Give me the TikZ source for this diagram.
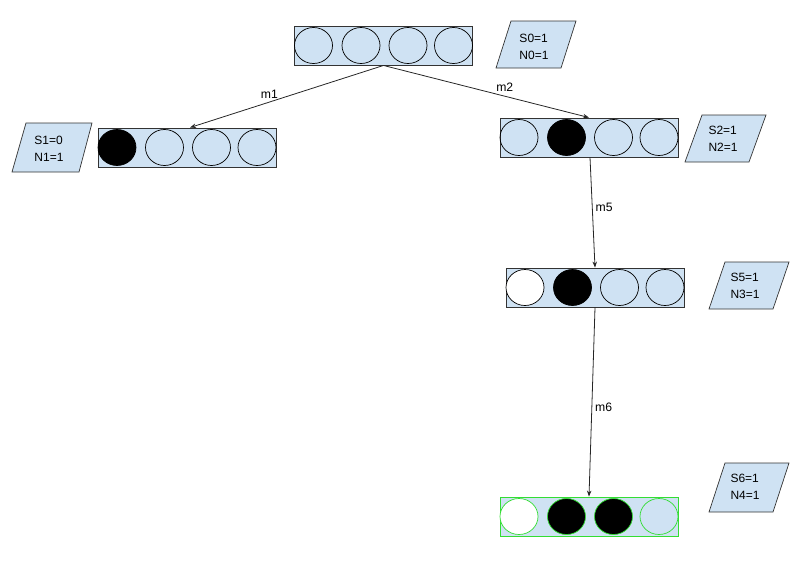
\documentclass[tikz,border=0pt]{standalone}
\usepackage{fontspec}
\setmainfont{Liberation Sans}
\usetikzlibrary{shapes.geometric,arrows.meta}
\definecolor{lblue}{HTML}{CFE2F3}
\definecolor{gborder}{HTML}{33DD33}
\definecolor{dborder}{HTML}{333333}
\tikzset{
  statebox/.style={draw=dborder,fill=lblue,line width=0.9pt,minimum width=178pt,minimum height=39pt,inner sep=0pt},
  cell/.style={ellipse,draw=black,line width=0.7pt,minimum width=38pt,minimum height=36pt,inner sep=0pt},
  cellblack/.style={cell,fill=black},
  cellwhite/.style={cell,fill=white},
  greencell/.style={draw=gborder},
  para/.style={draw=dborder,fill=lblue,line width=0.7pt},
  paratext/.style={align=left,font=\fontsize{12}{17}\selectfont,inner sep=0pt},
  conn/.style={draw=black!85,line width=0.8pt,-{Stealth[length=6pt,width=4.5pt]}},
  lbl/.style={font=\fontsize{12.2}{14}\selectfont,inner sep=1pt}
}
\begin{document}
\begin{tikzpicture}[x=1pt,y=-1pt]
\useasboundingbox (0,0) rectangle (810,571);
% boxes
\node[statebox] (B0) at (383.5,45.5) {};
\node[statebox] (B1) at (187,147.5) {};
\node[statebox] (B2) at (589,137.5) {};
\node[statebox] (B5) at (595,287.5) {};
\node[statebox,draw=gborder] (B6) at (589,516.5) {};
% cells
\foreach \b in {B0,B1,B2,B5,B6}{
  \coordinate (\b c1) at ([xshift=-70pt]\b.center);
  \coordinate (\b c2) at ([xshift=-22.5pt]\b.center);
  \coordinate (\b c3) at ([xshift=24.5pt]\b.center);
  \coordinate (\b c4) at ([xshift=70pt]\b.center);
}
\node[cell] (B0e1) at (B0c1) {};
\node[cell] (B0e2) at (B0c2) {};
\node[cell] (B0e3) at (B0c3) {};
\node[cell] (B0e4) at (B0c4) {};
\node[cellblack] (B1e1) at (B1c1) {};
\node[cell] (B1e2) at (B1c2) {};
\node[cell] (B1e3) at (B1c3) {};
\node[cell] (B1e4) at (B1c4) {};
\node[cell] (B2e1) at (B2c1) {};
\node[cellblack] (B2e2) at (B2c2) {};
\node[cell] (B2e3) at (B2c3) {};
\node[cell] (B2e4) at (B2c4) {};
\node[cellwhite] (B5e1) at (B5c1) {};
\node[cellblack] (B5e2) at (B5c2) {};
\node[cell] (B5e3) at (B5c3) {};
\node[cell] (B5e4) at (B5c4) {};
\node[cellwhite,greencell] (B6e1) at (B6c1) {};
\node[cellblack,greencell] (B6e2) at (B6c2) {};
\node[cellblack,greencell] (B6e3) at (B6c3) {};
\node[cell,greencell] (B6e4) at (B6c4) {};
% parallelograms
\draw[para] (511,21) -- (576,21) -- (561,68) -- (496,68) -- cycle;
\node[paratext] (P0) at (534,46.5) {S0=1\\N0=1};
\draw[para] (26,123) -- (92,123) -- (79,172) -- (12,172) -- cycle;
\node[paratext] (P1) at (49,149) {S1=0\\N1=1};
\draw[para] (702,115) -- (766,115) -- (749,162) -- (685,162) -- cycle;
\node[paratext] (P2) at (723,139) {S2=1\\N2=1};
\draw[para] (725,262) -- (789,262) -- (773,309) -- (709,309) -- cycle;
\node[paratext] (P5) at (745,285.5) {S5=1\\N3=1};
\draw[para] (725,463) -- (789,463) -- (773,512) -- (709,512) -- cycle;
\node[paratext] (P6) at (745,487) {S6=1\\N4=1};
% connectors
\draw[conn] (B0.south) -- ([xshift=3pt]B1.north) node[lbl,pos=0.59,above=2pt] (L1) {m1};
\draw[conn] (B0.south) -- (B2.north) node[lbl,pos=0.59,above=3pt] (L2) {m2};
\draw[conn] ([xshift=1pt]B2.south) -- (B5.north) node[lbl,pos=0.45,right=2pt] (L5) {m5};
\draw[conn] (B5.south) -- (B6.north) node[lbl,pos=0.53,right=2pt] (L6) {m6};
\end{tikzpicture}
\end{document}
